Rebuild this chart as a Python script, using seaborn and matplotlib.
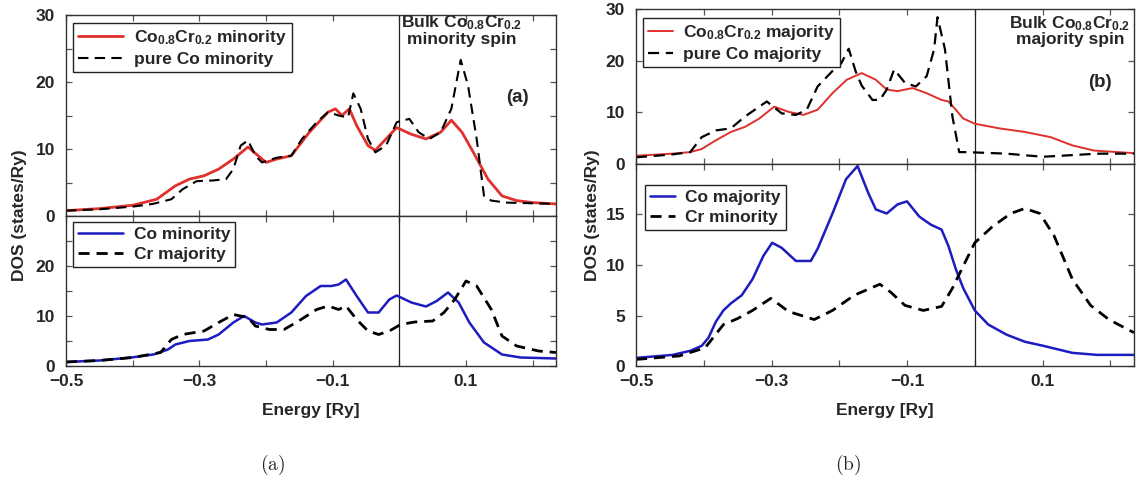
import matplotlib
matplotlib.use("Agg")
import matplotlib.pyplot as plt
import seaborn as sns
from matplotlib.ticker import FixedLocator, NullFormatter

# ---------------- data ----------------
a_top_alloy_E = [-0.5, -0.45, -0.4, -0.364, -0.336, -0.315, -0.293, -0.271, -0.249, -0.227, -0.2, -0.184,
                 -0.162, -0.135, -0.107, -0.096, -0.086, -0.075, -0.064, -0.047, -0.036, -0.02, -0.004,
                 0.018, 0.04, 0.062, 0.078, 0.094, 0.111, 0.133, 0.154, 0.176, 0.2, 0.235]
a_top_alloy = [0.8, 1.1, 1.6, 2.5, 4.5, 5.5, 6, 7, 8.5, 10.3, 8, 8.5,
               9, 12.5, 15.5, 16, 15, 16, 13.5, 10.5, 9.8, 11.5, 13.2,
               12.2, 11.5, 12.5, 14.3, 12.5, 9.5, 5.5, 3, 2.3, 2.0, 1.8]

a_top_pure_E = [-0.5, -0.45, -0.4, -0.37, -0.342, -0.325, -0.304, -0.28, -0.26, -0.249, -0.238, -0.227,
                -0.216, -0.206, -0.184, -0.162, -0.146, -0.124, -0.107, -0.091, -0.077, -0.069, -0.058,
                -0.047, -0.036, -0.02, -0.004, 0.015, 0.029, 0.045, 0.062, 0.078, 0.092, 0.103, 0.116,
                0.127, 0.138, 0.16, 0.2, 0.235]
a_top_pure = [0.8, 1.0, 1.4, 1.8, 2.5, 4, 5.2, 5.3, 5.5, 7, 10.5, 11.3,
              9, 8, 8.7, 9, 11.5, 14, 15.5, 15, 14.7, 18.3, 16,
              11.5, 9.5, 10.5, 14, 14.5, 12.5, 11.5, 12.5, 16, 23.3, 19.5, 11.5,
              3, 2.3, 2, 1.9, 1.8]

a_bot_co_E = [-0.5, -0.45, -0.402, -0.369, -0.347, -0.336, -0.315, -0.287, -0.271, -0.249, -0.233, -0.216,
              -0.206, -0.184, -0.162, -0.14, -0.118, -0.102, -0.091, -0.08, -0.064, -0.047, -0.031,
              -0.015, -0.004, 0.018, 0.04, 0.056, 0.073, 0.089, 0.105, 0.127, 0.154, 0.182, 0.235]
a_bot_co = [0.8, 1.1, 1.7, 2.3, 3.3, 4.3, 5, 5.3, 6.3, 8.7, 10, 8.7,
            8.3, 8.7, 10.7, 14, 16, 16, 16.3, 17.3, 14, 10.7, 10.7,
            13.3, 14.1, 12.7, 11.9, 13, 14.7, 12.7, 8.7, 4.7, 2.3, 1.7, 1.5]

a_bot_cr_E = [-0.5, -0.45, -0.4, -0.358, -0.342, -0.325, -0.293, -0.271, -0.249, -0.227, -0.216, -0.195,
              -0.173, -0.151, -0.124, -0.107, -0.091, -0.08, -0.064, -0.047, -0.031, -0.015, 0.002,
              0.023, 0.05, 0.067, 0.083, 0.1, 0.116, 0.138, 0.154, 0.176, 0.209, 0.235]
a_bot_cr = [0.8, 1.1, 1.7, 2.7, 5.3, 6.3, 7, 8.7, 10.3, 9.7, 8, 7.3,
            7.3, 9, 11.3, 12, 11.3, 12, 9.3, 7, 6.3, 7, 8.3,
            8.8, 9, 10.7, 13.3, 17, 16, 11.3, 6, 4, 3, 2.7]

b_top_alloy_E = [-0.5, -0.446, -0.42, -0.403, -0.382, -0.36, -0.339, -0.318, -0.296, -0.275, -0.253, -0.232,
                 -0.21, -0.189, -0.167, -0.146, -0.13, -0.114, -0.092, -0.071, -0.049, -0.039, -0.028,
                 -0.017, 0.0, 0.036, 0.074, 0.112, 0.144, 0.176, 0.235]
b_top_alloy = [1.6, 2, 2.3, 2.9, 4.6, 6.2, 7.2, 8.8, 11.1, 10.1, 9.5, 10.5,
               13.7, 16.3, 17.6, 16.3, 14.4, 14.1, 14.7, 13.7, 12.4, 12.1, 10.5,
               8.8, 7.8, 6.9, 6.2, 5.2, 3.6, 2.6, 2.1]

b_top_pure_E = [-0.5, -0.45, -0.42, -0.403, -0.382, -0.36, -0.339, -0.318, -0.307, -0.285, -0.264, -0.248,
                -0.232, -0.21, -0.197, -0.186, -0.176, -0.167, -0.151, -0.14, -0.13, -0.119, -0.103, -0.087,
                -0.071, -0.06, -0.055, -0.044, -0.033, -0.023, -0.012, 0.047, 0.1, 0.128, 0.181, 0.235]
b_top_pure = [1.3, 1.8, 2.3, 5.2, 6.5, 6.9, 9.2, 11.1, 12.1, 9.8, 9.5, 10.5,
              15, 18, 19.5, 22.3, 18.0, 15.2, 12.4, 12.4, 14.4, 18.3, 15.7, 15,
              17, 22.2, 28.4, 22.2, 9.2, 2.3, 2.3, 2, 1.4, 1.6, 2, 2]

b_bot_co_E = [-0.5, -0.446, -0.42, -0.403, -0.393, -0.382, -0.371, -0.36, -0.344, -0.328, -0.312, -0.299,
              -0.285, -0.264, -0.242, -0.232, -0.21, -0.19, -0.173, -0.157, -0.146, -0.13, -0.114,
              -0.1, -0.082, -0.065, -0.049, -0.039, -0.028, -0.017, 0.0, 0.02, 0.047, 0.074, 0.101,
              0.144, 0.181, 0.235]
b_bot_co = [0.8, 1.1, 1.5, 2, 2.8, 4.4, 5.5, 6.2, 7, 8.6, 10.9, 12.2,
            11.7, 10.4, 10.4, 11.6, 15.1, 18.5, 19.8, 17.1, 15.5, 15.1, 16,
            16.3, 14.8, 14, 13.5, 11.9, 9.6, 7.7, 5.5, 4.1, 3.1, 2.4, 2,
            1.3, 1.1, 1.1]

b_bot_cr_E = [-0.5, -0.436, -0.398, -0.371, -0.35, -0.328, -0.301, -0.275, -0.237, -0.21, -0.178, -0.14,
              -0.124, -0.103, -0.076, -0.049, -0.033, -0.017, 0.0, 0.026, 0.053, 0.074, 0.096, 0.117,
              0.144, 0.171, 0.198, 0.235]
b_bot_cr = [0.65, 1, 1.8, 4.1, 4.7, 5.5, 6.7, 5.4, 4.6, 5.5, 7, 8.1,
            7.3, 6, 5.5, 5.9, 7.7, 9.9, 12.2, 13.8, 15.1, 15.6, 15.1, 12.9,
            8.6, 6, 4.6, 3.3]

x_major = [-0.5, -0.3, -0.1, 0.1]
x_minor = [-0.4, -0.2, 0.0, 0.2]
x_labels = ["−0.5", "−0.3", "−0.1", "0.1"]

# ---------------- style ----------------
sns.set_theme(style="ticks")
FONT = "Liberation Sans"
plt.rcParams.update({
    "font.family": [FONT, "DejaVu Sans"],
    "font.weight": "bold",
    "mathtext.fontset": "custom",
    "mathtext.rm": "Liberation Sans:bold",
    "mathtext.it": "Liberation Sans:bold",
    "mathtext.bf": "Liberation Sans:bold",
    "mathtext.default": "rm",
    "axes.linewidth": 1.0,
    "axes.edgecolor": "#333333",
})

RED = "#e0302c"
BLUE = "#1c1cc0"
FS = 12.5

W, H = 1141, 483
fig = plt.figure(figsize=(W / 100, H / 100), dpi=100)


def add_ax(l, r, t, b):
    return fig.add_axes([l / W, 1 - b / H, (r - l) / W, (b - t) / H])


ax_at = add_ax(66, 556, 15, 216)
ax_ab = add_ax(66, 556, 216, 366)
ax_bt = add_ax(636, 1134, 9, 164)
ax_bb = add_ax(636, 1134, 164, 366)


def style(ax, ymax, ymaj, ymin, ylabels, show_x):
    ax.set_xlim(-0.5, 0.235)
    ax.set_ylim(0, ymax)
    ax.xaxis.set_major_locator(FixedLocator(x_major))
    ax.xaxis.set_minor_locator(FixedLocator(x_minor))
    ax.yaxis.set_major_locator(FixedLocator(ymaj))
    ax.yaxis.set_minor_locator(FixedLocator(ymin))
    ax.set_yticklabels(ylabels)
    if show_x:
        ax.set_xticklabels(x_labels)
    else:
        ax.set_xticklabels([])
    ax.xaxis.set_minor_formatter(NullFormatter())
    ax.tick_params(which="both", direction="in", top=True, right=True,
                   length=4, width=0.9, color="#555555", labelsize=FS, pad=6)
    ax.tick_params(axis="y", pad=8)
    for lab in ax.get_xticklabels() + ax.get_yticklabels():
        lab.set_fontweight("bold")
    ax.set_xlabel("")
    ax.set_ylabel("")
    ax.axvline(0, color="#222222", lw=0.9, zorder=1)


def line(ax, x, y, color, lw, ls, label):
    sns.lineplot(x=x, y=y, ax=ax, color=color, lw=lw, linestyle=ls,
                 label=label, estimator=None)


def legend(ax, x0, y0, hl):
    leg = ax.legend(loc="upper left",
                    bbox_to_anchor=(x0 / W, 1 - y0 / H),
                    bbox_transform=fig.transFigure,
                    frameon=True, fancybox=False, framealpha=1,
                    edgecolor="#222222", fontsize=FS, handlelength=hl,
                    handletextpad=0.6, borderpad=0.3, labelspacing=0.25,
                    borderaxespad=0)
    leg.get_frame().set_linewidth(1.0)
    for t in leg.get_texts():
        t.set_fontweight("bold")


# panel (a) top
line(ax_at, a_top_alloy_E, a_top_alloy, RED, 2.0, "-", r"Co$_{0.8}$Cr$_{0.2}$ minority")
line(ax_at, a_top_pure_E, a_top_pure, "black", 1.5, (0, (5, 3)), "pure Co minority")
style(ax_at, 30, [0, 10, 20, 30], [5, 15, 25], ["0", "10", "20", "30"], False)
legend(ax_at, 73, 23, 2.6)
ax_at.text(0.808, 0.925, "Bulk Co$_{0.8}$Cr$_{0.2}$\nminority spin", transform=ax_at.transAxes,
           ha="center", va="center", fontsize=FS, fontweight="bold", linespacing=0.95)
ax_at.text(0.922, 0.592, "(a)", transform=ax_at.transAxes, ha="center", va="center",
           fontsize=FS + 1, fontweight="bold")

# panel (a) bottom
line(ax_ab, a_bot_co_E, a_bot_co, BLUE, 1.8, "-", "Co minority")
line(ax_ab, a_bot_cr_E, a_bot_cr, "black", 2.0, (0, (4, 2.5)), "Cr majority")
style(ax_ab, 30, [0, 10, 20], [5, 15, 25], ["0", "10", "20"], True)
legend(ax_ab, 73, 222, 2.6)

# panel (b) top
line(ax_bt, b_top_alloy_E, b_top_alloy, RED, 1.4, "-", r"Co$_{0.8}$Cr$_{0.2}$ majority")
line(ax_bt, b_top_pure_E, b_top_pure, "black", 1.6, (0, (5, 3)), "pure Co majority")
style(ax_bt, 30, [0, 10, 20, 30], [], ["0", "10", "20", "30"], False)
legend(ax_bt, 643, 18, 1.4)
ax_bt.text(0.871, 0.86, "Bulk Co$_{0.8}$Cr$_{0.2}$\nmajority spin", transform=ax_bt.transAxes,
           ha="center", va="center", fontsize=FS, fontweight="bold", linespacing=0.95)
ax_bt.text(0.932, 0.523, "(b)", transform=ax_bt.transAxes, ha="center", va="center",
           fontsize=FS + 1, fontweight="bold")

# panel (b) bottom
line(ax_bb, b_bot_co_E, b_bot_co, BLUE, 1.8, "-", "Co majority")
line(ax_bb, b_bot_cr_E, b_bot_cr, "black", 2.0, (0, (4, 2.5)), "Cr minority")
style(ax_bb, 20, [0, 5, 10, 15], [], ["0", "5", "10", "15"], True)
legend(ax_bb, 645, 185, 1.4)

# shared labels
fig.text(20 / W, 1 - 215 / H, "DOS (states/Ry)", rotation=90, ha="center", va="center",
         fontsize=FS, fontweight="bold")
fig.text(592 / W, 1 - 215 / H, "DOS (states/Ry)", rotation=90, ha="center", va="center",
         fontsize=FS, fontweight="bold")
fig.text(311 / W, 1 - 410 / H, "Energy [Ry]", ha="center", va="center", fontsize=FS, fontweight="bold")
fig.text(885 / W, 1 - 411 / H, "Energy [Ry]", ha="center", va="center", fontsize=FS, fontweight="bold")
fig.text(273 / W, 1 - 465 / H, r"$\mathrm{(a)}$", ha="center", va="center", fontsize=14,
         math_fontfamily="cm")
fig.text(848 / W, 1 - 465 / H, r"$\mathrm{(b)}$", ha="center", va="center", fontsize=14,
         math_fontfamily="cm")

fig.savefig("out.png", dpi=100, facecolor="white")
